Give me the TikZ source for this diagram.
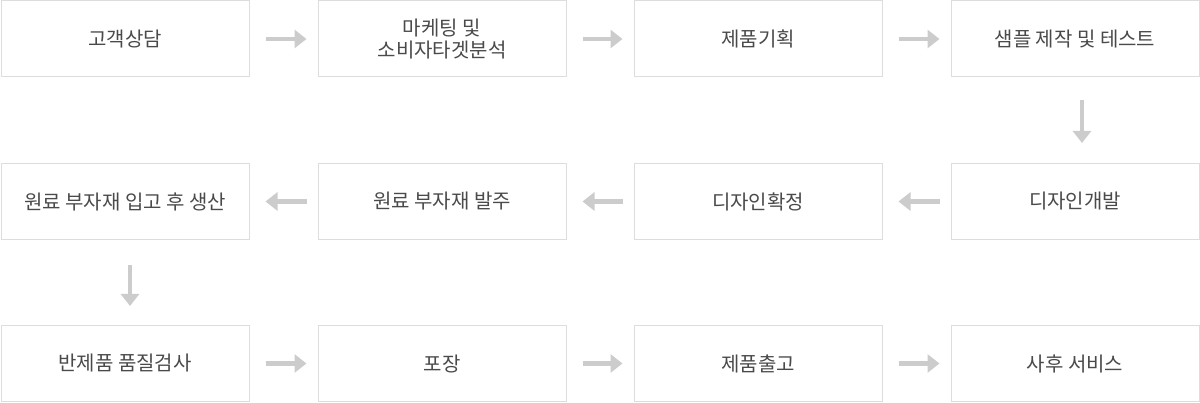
\documentclass[tikz,border=0pt]{standalone}
\usepackage{fontspec}
\setmainfont{Noto Sans CJK KR}
\usetikzlibrary{arrows.meta}
\definecolor{boxline}{HTML}{DDDDDD}
\definecolor{arrcol}{HTML}{CCCCCC}
\definecolor{txt}{HTML}{4A4A4A}
\tikzset{
  stepbox/.style={draw=boxline, line width=1pt, fill=white, minimum width=248pt, minimum height=76pt,
    inner sep=0pt, text=txt, align=center, font=\fontsize{20pt}{21.5pt}\selectfont},
  arr/.style={draw=arrcol, line width=4.5pt, -{Triangle[length=12pt,width=18pt]}},
}
\begin{document}
\begin{tikzpicture}[x=1pt,y=1pt]
\useasboundingbox (0,0) rectangle (1200,403);
% row 1 (centers)
\node[stepbox] (a1) at (125,364) {고객상담};
\node[stepbox] (a2) at (442,364) {마케팅 및\\소비자타겟분석};
\node[stepbox] (a3) at (758,364) {제품기획};
\node[stepbox] (a4) at (1075,364) {샘플 제작 및 테스트};
% row 2
\node[stepbox] (b1) at (125,201.5) {원료 부자재 입고 후 생산};
\node[stepbox] (b2) at (442,201.5) {원료 부자재 발주};
\node[stepbox] (b3) at (758,201.5) {디자인확정};
\node[stepbox] (b4) at (1075,201.5) {디자인개발};
% row 3
\node[stepbox] (c1) at (125,39.5) {반제품 품질검사};
\node[stepbox] (c2) at (442,39.5) {포장};
\node[stepbox] (c3) at (758,39.5) {제품출고};
\node[stepbox] (c4) at (1075,39.5) {사후 서비스};
% arrows row 1
\draw[arr] ([xshift=16pt]a1.east) -- ([xshift=-11pt]a2.west);
\draw[arr] ([xshift=16pt]a2.east) -- ([xshift=-11pt]a3.west);
\draw[arr] ([xshift=16pt]a3.east) -- ([xshift=-11pt]a4.west);
% down
\draw[arr] ([xshift=7pt,yshift=-23pt]a4.south) -- ([xshift=7pt,yshift=20pt]b4.north);
% row 2 (leftwards)
\draw[arr] ([xshift=-11pt]b4.west) -- ([xshift=16pt]b3.east);
\draw[arr] ([xshift=-11pt]b3.west) -- ([xshift=16pt]b2.east);
\draw[arr] ([xshift=-11pt]b2.west) -- ([xshift=16pt]b1.east);
% down
\draw[arr] ([xshift=5pt,yshift=-25pt]b1.south) -- ([xshift=5pt,yshift=19pt]c1.north);
% row 3
\draw[arr] ([xshift=16pt]c1.east) -- ([xshift=-11pt]c2.west);
\draw[arr] ([xshift=16pt]c2.east) -- ([xshift=-11pt]c3.west);
\draw[arr] ([xshift=16pt]c3.east) -- ([xshift=-11pt]c4.west);
\end{tikzpicture}
\end{document}
